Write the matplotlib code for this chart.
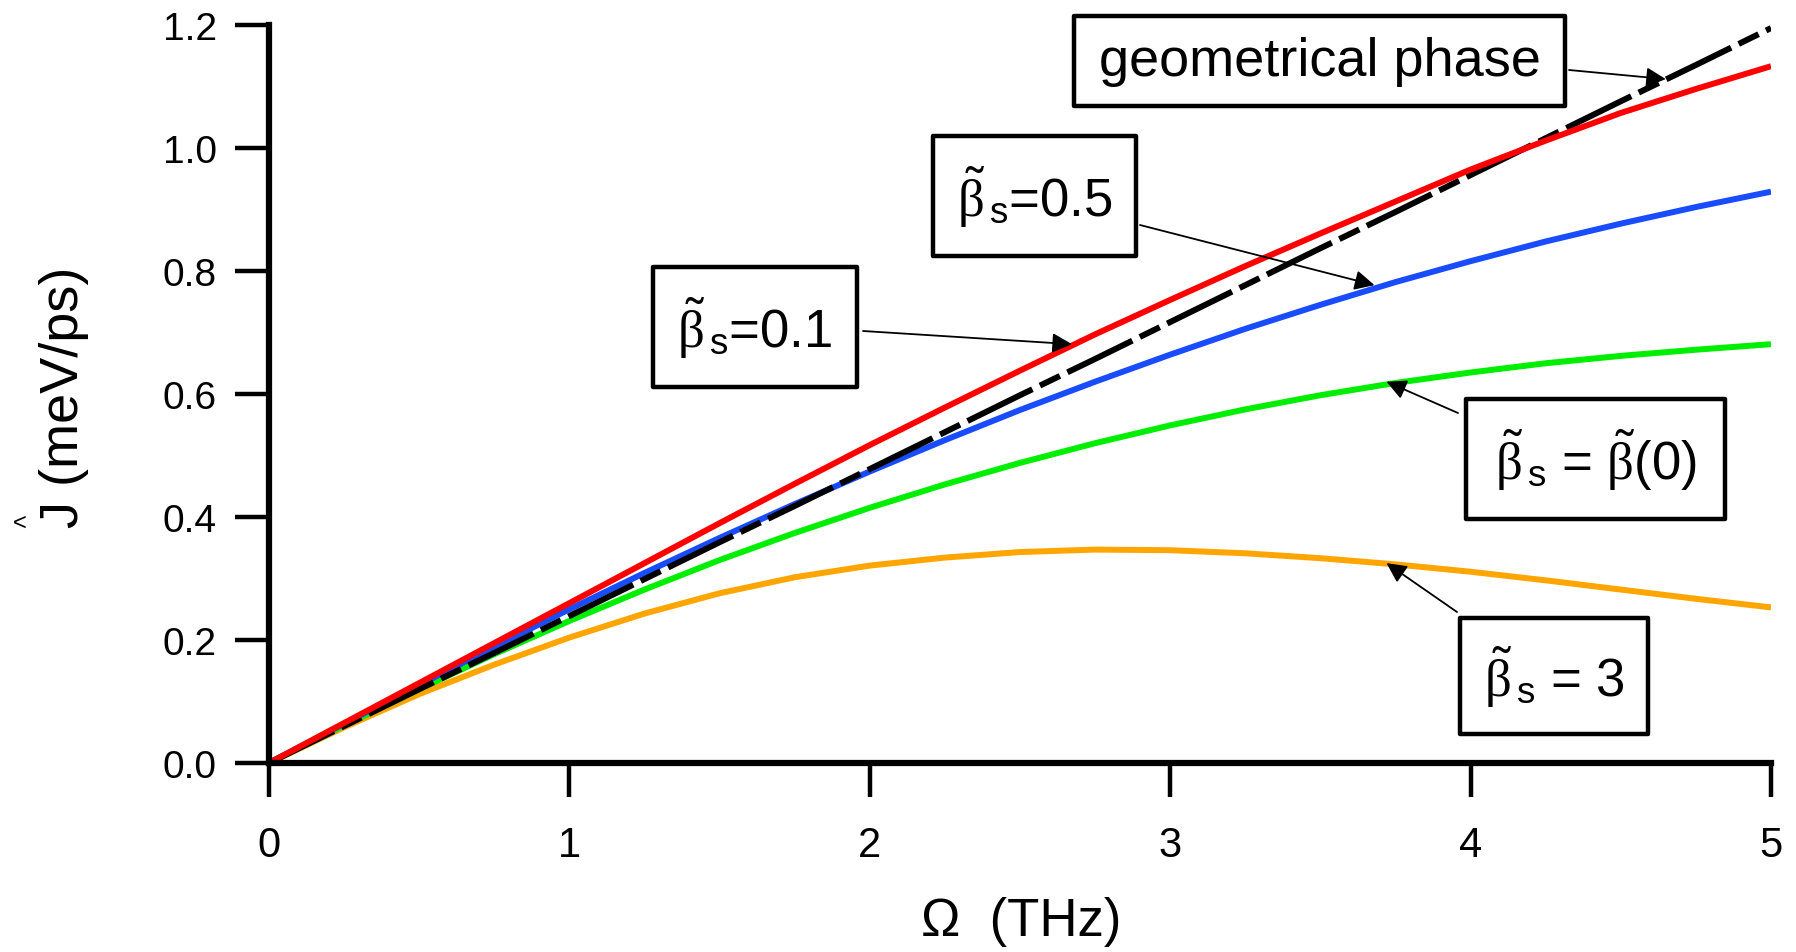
import matplotlib
matplotlib.use('Agg')
import matplotlib.pyplot as plt
from matplotlib.patches import Rectangle

# frequency grid (THz) and curves
omega = [0, 0.25, 0.5, 0.75, 1, 1.25, 1.5, 1.75, 2, 2.25, 2.5,
         2.75, 3, 3.25, 3.5, 3.75, 4, 4.25, 4.5, 4.75, 5]
j_beta01 = [0, 0.065, 0.130, 0.195, 0.260, 0.325, 0.390, 0.454, 0.517, 0.578, 0.638,
            0.697, 0.753, 0.808, 0.861, 0.913, 0.965, 1.012, 1.057, 1.096, 1.133]
j_geom = [0, 0.060, 0.120, 0.179, 0.239, 0.299, 0.359, 0.418, 0.478, 0.538, 0.598,
          0.657, 0.717, 0.777, 0.837, 0.896, 0.956, 1.016, 1.076, 1.135, 1.195]
j_beta05 = [0, 0.064, 0.127, 0.189, 0.250, 0.309, 0.366, 0.421, 0.474, 0.525, 0.574,
            0.620, 0.664, 0.706, 0.745, 0.782, 0.816, 0.848, 0.877, 0.904, 0.929]
j_beta0 = [0, 0.061, 0.120, 0.177, 0.231, 0.282, 0.330, 0.374, 0.415, 0.453, 0.488,
           0.520, 0.549, 0.575, 0.598, 0.618, 0.635, 0.650, 0.662, 0.672, 0.681]
j_beta3 = [0, 0.058, 0.112, 0.160, 0.204, 0.243, 0.276, 0.302, 0.321, 0.334, 0.343,
           0.347, 0.346, 0.341, 0.333, 0.323, 0.311, 0.297, 0.282, 0.267, 0.253]

x_ticks = [0, 1, 2, 3, 4, 5]
y_ticks = [0.0, 0.2, 0.4, 0.6, 0.8, 1.0, 1.2]

# annotation labels, arrow targets (data) on their curves
labels = ['geometrical phase',
          r'$\tilde{\beta}_{\,\mathrm{s}}$=0.5',
          r'$\tilde{\beta}_{\,\mathrm{s}}$=0.1',
          r'$\tilde{\beta}_{\,\mathrm{s}}$ = $\tilde{\beta}$(0)',
          r'$\tilde{\beta}_{\,\mathrm{s}}$ = 3']
targets = [(4.65, 1.112), (3.68, 0.777), (2.673, 0.681), (3.72, 0.620), (3.72, 0.325)]

W, H = 1796, 953

plt.rcParams['font.family'] = ['Liberation Sans', 'DejaVu Sans']
plt.rcParams['mathtext.fontset'] = 'custom'
plt.rcParams['mathtext.rm'] = 'Liberation Sans'
plt.rcParams['mathtext.it'] = 'Liberation Serif'
plt.rcParams['lines.scale_dashes'] = False


def fx(px):
    return px / W


def fy(py):
    return 1 - py / H


fig = plt.figure(figsize=(W / 100, H / 100), dpi=100)
ax = fig.add_axes([fx(269), fy(764), fx(1771) - fx(269), fy(26) - fy(764)])

lw = 4.3
ax.plot(omega, j_beta3, color='#ffa500', lw=lw, solid_capstyle='butt')
ax.plot(omega, j_beta0, color='#00ee00', lw=lw, solid_capstyle='butt')
ax.plot(omega, j_beta05, color='#1a4cff', lw=lw, solid_capstyle='butt')
ax.plot(omega, j_geom, color='black', lw=lw, dashes=(52, 6, 16, 6))
ax.plot(omega, j_beta01, color='#ff0000', lw=lw, solid_capstyle='butt')

ax.set_xlim(0, 5)
ax.set_ylim(0, 1.2)
ax.set_xticks(x_ticks)
ax.set_xticklabels([str(t) for t in x_ticks])
ax.set_yticks(y_ticks)
ax.set_yticklabels(['%.1f' % t for t in y_ticks])
for s in ['top', 'right']:
    ax.spines[s].set_visible(False)
for s in ['left', 'bottom']:
    ax.spines[s].set_linewidth(4.5)
ax.tick_params(axis='x', direction='out', length=24.5, width=3.2, pad=20, labelsize=30)
ax.tick_params(axis='y', direction='out', length=24.5, width=3.2, pad=13, labelsize=28)

# axis labels (the hat over J sits apart, like in the original)
fig.text(fx(64), fy(397), 'J (meV/ps)', rotation=90, ha='center', va='center', fontsize=39)
fig.text(fx(20), fy(524), '<', ha='center', va='center', fontsize=17)
fig.text(fx(1021), fy(922), 'Ω  (THz)', ha='center', va='center', fontsize=38)

# boxes (pixel extents) and arrow tails
boxes = [(1074, 17, 1565, 107), (933, 137, 1136, 257), (653, 268, 857, 388),
         (1466, 400, 1725, 520), (1460, 619, 1648, 735)]
tails = [(1569, 71), (1140, 226), (863, 332), (1458, 414), (1457, 613)]
sizes = [39, 38, 38, 38, 38]

for lab, tgt, box, tail, fs in zip(labels, targets, boxes, tails, sizes):
    x0, y0, x1, y1 = box
    rect = Rectangle((fx(x0), fy(y1)), fx(x1) - fx(x0), fy(y0) - fy(y1),
                     transform=fig.transFigure, facecolor='white', edgecolor='black',
                     lw=3.2, zorder=5, joinstyle='round')
    fig.add_artist(rect)
    fig.text(fx((x0 + x1) / 2), fy((y0 + y1) / 2), lab, ha='center', va='center',
             fontsize=fs, zorder=6)
    ax.annotate('', xy=tgt, xycoords='data', xytext=(fx(tail[0]), fy(tail[1])),
                textcoords='figure fraction',
                arrowprops=dict(arrowstyle='-|>', color='black', lw=1.3,
                                mutation_scale=30, shrinkA=0, shrinkB=0),
                annotation_clip=False, zorder=7)

plt.savefig('out.png', dpi=100)
